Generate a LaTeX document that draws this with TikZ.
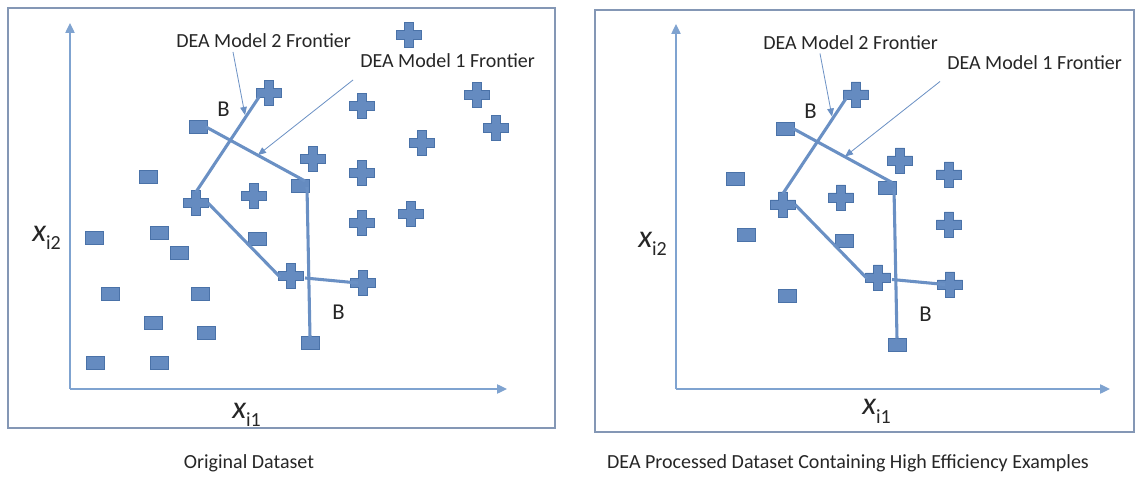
\documentclass[tikz,border=0pt]{standalone}
\usepackage{fontspec}
\setmainfont{Carlito}
\usetikzlibrary{arrows.meta,calc}
\definecolor{mkfill}{HTML}{658BC0}
\definecolor{mkdraw}{HTML}{4A72A8}
\definecolor{lnblue}{HTML}{6A90C4}
\definecolor{axblue}{HTML}{7FA3D0}
\definecolor{frgray}{HTML}{8497B5}
\definecolor{txt}{HTML}{262626}
\tikzset{
  sq/.style={rectangle, fill=mkfill, draw=mkdraw, line width=0.6pt, minimum width=13.5pt, minimum height=9.75pt, inner sep=0pt},
  pl/.style={rectangle, inner sep=0pt, minimum size=21pt, path picture={
    \path[fill=mkfill, draw=mkdraw, line width=0.6pt] (path picture bounding box.center) ++(-3.4pt,9.4pt)
      -- ++(6.8pt,0pt) -- ++(0pt,-6pt) -- ++(6pt,0pt) -- ++(0pt,-6.8pt) -- ++(-6pt,0pt) -- ++(0pt,-6pt)
      -- ++(-6.8pt,0pt) -- ++(0pt,6pt) -- ++(-6pt,0pt) -- ++(0pt,6.8pt) -- ++(6pt,0pt) -- cycle;}},
  front/.style={draw=lnblue, line width=2.3pt},
  note/.style={draw=lnblue, line width=0.6pt, -{Triangle[length=6pt,width=5pt]}},
  axis/.style={draw=axblue, line width=1pt, -{Triangle[length=7.5pt,width=7pt]}},
  frame/.style={draw=frgray, line width=1.2pt},
  lab/.style={inner sep=0pt, text=txt, font=\fontsize{15pt}{18pt}\selectfont},
  blab/.style={inner sep=0pt, text=txt, font=\fontsize{17pt}{20pt}\selectfont},
  captxt/.style={inner sep=0pt, text=txt, font=\fontsize{15pt}{18pt}\selectfont},
  axlab/.style={inner sep=0pt, text=txt, font=\fontsize{24pt}{28pt}\selectfont}
}
\newcommand\subtx[1]{\raisebox{-6pt}{\fontsize{15pt}{16pt}\selectfont\upshape #1}}
\newcommand\dpanel[3]{%
  \node[sq] (#1a) at ({198+#2},{127+#3}) {};
  \node[sq] (#1b) at ({148+#2},{177+#3}) {};
  \node[sq] (#1c) at ({300+#2},{186+#3}) {};
  \node[sq] (#1d) at ({159+#2},{233+#3}) {};
  \node[sq] (#1e) at ({257+#2},{239+#3}) {};
  \node[sq] (#1f) at ({200+#2},{294+#3}) {};
  \node[sq] (#1g) at ({310+#2},{343+#3}) {};
  \node[pl] (#1p1) at ({269+#2},{93+#3}) {};
  \node[pl] (#1p2) at ({313+#2},{159+#3}) {};
  \node[pl] (#1p3) at ({362+#2},{173+#3}) {};
  \node[pl] (#1p4) at ({254+#2},{196+#3}) {};
  \node[pl] (#1p5) at ({196+#2},{203+#3}) {};
  \node[pl] (#1p6) at ({362+#2},{223+#3}) {};
  \node[pl] (#1p7) at ({291+#2},{276+#3}) {};
  \node[pl] (#1p8) at ({363+#2},{283+#3}) {};
  \draw[front] ($(#1a)+(8,0)$) -- ($(#1c)+(5,-5)$);
  \draw[front] ($(#1c)+(7,1)$) -- ($(#1g)+(0,-6)$);
  \draw[front] ($(#1p1)+(-10,4)$) -- ($(#1p5)+(0,-11)$);
  \draw[front] ($(#1p5)+(12,0)$) -- ($(#1p7)+(-11,1)$);
  \draw[front] ($(#1p7)+(14,2)$) -- ($(#1p8)+(-5,0)$);
  \node[lab, anchor=base west] (#1m2) at ({176+#2},{48+#3}) {DEA Model 2 Frontier};
  \node[lab, anchor=base west] (#1m1) at ({360+#2},{68+#3}) {DEA Model 1 Frontier};
  \node[blab, anchor=base west] (#1B1) at ({217+#2},{117+#3}) {B};
  \node[blab, anchor=base west] (#1B2) at ({332+#2},{320+#3}) {B};
  \coordinate (#1t2) at ({245+#2},{115+#3});
  \coordinate (#1t1) at ({258+#2},{155+#3});
  \draw[note] ($(#1m2.base west)+(57,4)$) -- (#1t2);
  \draw[note] ($(#1m1.base west)+(-7,12)$) -- (#1t1);
}
\begin{document}
\begin{tikzpicture}[x=0.75pt,y=-0.75pt]
\useasboundingbox (0,0) rectangle (1136,477);
\fill[white] (0,0) rectangle (1136,477);
% frames
\draw[frame] (8,8) rectangle (555,428);
\draw[frame] (595,10) rectangle (1134,432);
% axes
\coordinate (Lo) at (70,389);
\coordinate (Ly) at (70,23);
\coordinate (Lx) at (507,389);
\draw[axis] (Lo) -- (Ly);
\draw[axis] (Lo) -- (Lx);
\coordinate (Ro) at (676,389);
\coordinate (Ry) at (676,24);
\coordinate (Rx) at (1110,389);
\draw[axis] (Ro) -- (Ry);
\draw[axis] (Ro) -- (Rx);
\node[axlab, anchor=base west] (Lxi2) at (32,242) {\itshape x\subtx{i2}};
\node[axlab, anchor=base west] (Lxi1) at (232,418) {\itshape x\subtx{i1}};
\node[axlab, anchor=base west] (Rxi2) at (638,248) {\itshape x\subtx{i2}};
\node[axlab, anchor=base west] (Rxi1) at (862,415) {\itshape x\subtx{i1}};
% left-only markers
\node[sq] (Lq1) at (94,238) {};
\node[sq] (Lq2) at (179,253) {};
\node[sq] (Lq3) at (110,294) {};
\node[sq] (Lq4) at (153,323) {};
\node[sq] (Lq5) at (206,333) {};
\node[sq] (Lq6) at (95,363) {};
\node[sq] (Lq7) at (159,363) {};
\node[pl] (Lx1) at (409,35) {};
\node[pl] (Lx2) at (362,106) {};
\node[pl] (Lx3) at (477,95) {};
\node[pl] (Lx4) at (496,128) {};
\node[pl] (Lx5) at (422,143) {};
\node[pl] (Lx6) at (411,214) {};
% shared content
\dpanel{L}{0}{0}
\dpanel{R}{587}{1.5}
% captions
\node[captxt, anchor=base] (cap1) at (249,469) {Original Dataset};
\node[captxt, anchor=base] (cap2) at (848,469) {DEA Processed Dataset Containing High Efficiency Examples};
\end{tikzpicture}
\end{document}
